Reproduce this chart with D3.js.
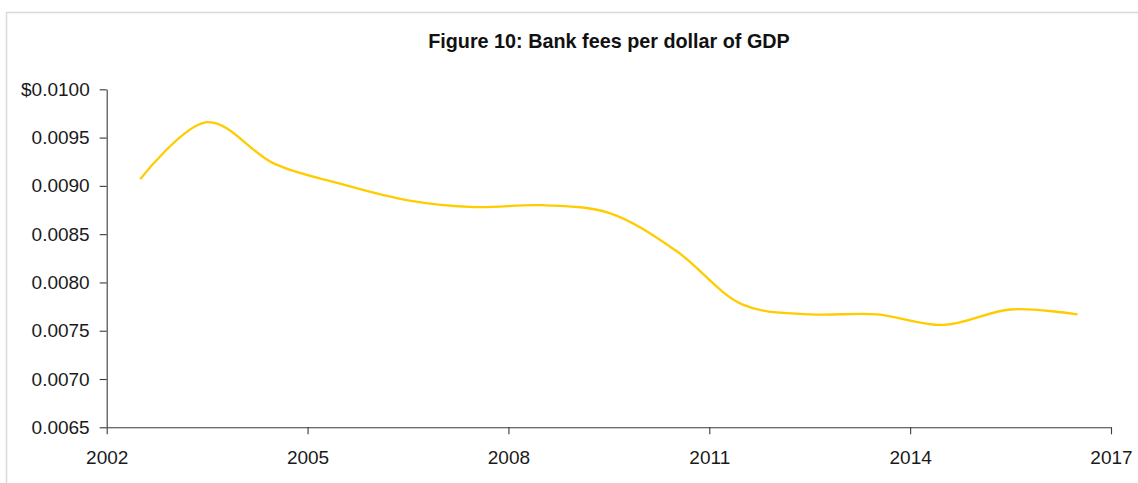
<!DOCTYPE html>
<html>
<head>
<meta charset="utf-8">
<script src="https://cdn.jsdelivr.net/npm/d3@7"></script>
<style>
  html, body { margin: 0; padding: 0; background: #fff; }
  svg { display: block; font-family: "Liberation Sans", Arial, sans-serif; }
</style>
</head>
<body>
<svg id="chart" width="1138" height="483"></svg>
<script>
// Bank fees per dollar of GDP, annual observations plotted at mid-year
const years = [2002.5, 2003.5, 2004.5, 2005.5, 2006.5, 2007.5, 2008.5, 2009.5,
               2010.5, 2011.5, 2012.5, 2013.5, 2014.5, 2015.5, 2016.5];
const feesPerDollar = [0.00907, 0.00966, 0.00923, 0.00902, 0.00885, 0.00878, 0.00880, 0.00872,
                       0.00833, 0.00777, 0.00767, 0.00767, 0.00756, 0.00772, 0.00767];

const xTicks = [2002, 2005, 2008, 2011, 2014, 2017];
const yTicks = [0.0065, 0.0070, 0.0075, 0.0080, 0.0085, 0.0090, 0.0095, 0.0100];
const yTickLabels = ["0.0065", "0.0070", "0.0075", "0.0080", "0.0085", "0.0090", "0.0095", "$0.0100"];
const title = "Figure 10: Bank fees per dollar of GDP";

const svg = d3.select("#chart");

// chart-area frame
svg.append("rect")
  .attr("x", 6.5).attr("y", 12.5)
  .attr("width", 1200).attr("height", 500)
  .attr("fill", "none")
  .attr("stroke", "#d9d9d9")
  .attr("stroke-width", 1.5);

const x = d3.scaleLinear().domain([2002, 2017]).range([106.7, 1111]);
const y = d3.scaleLinear().domain([0.0065, 0.0100]).range([427.3, 89.3]);

svg.append("text")
  .attr("x", 609).attr("y", 48)
  .attr("text-anchor", "middle")
  .attr("font-size", 19.8)
  .attr("font-weight", "bold")
  .attr("fill", "#111")
  .text(title);

const xAxis = d3.axisBottom(x)
  .tickValues(xTicks)
  .tickFormat(d3.format("d"))
  .tickSize(7)
  .tickSizeOuter(0)
  .tickPadding(16);

const yAxis = d3.axisLeft(y)
  .tickValues(yTicks)
  .tickFormat((d, i) => yTickLabels[i])
  .tickSize(7)
  .tickSizeOuter(0)
  .tickPadding(10);

const gx = svg.append("g").attr("transform", "translate(0,427.3)").call(xAxis);
const gy = svg.append("g").attr("transform", "translate(106.7,0)").call(yAxis);

[gx, gy].forEach(g => {
  g.select(".domain").attr("stroke", "#3a3a3a").attr("stroke-width", 1.1);
  g.selectAll(".tick line").attr("stroke", "#3a3a3a").attr("stroke-width", 1.1);
  g.selectAll(".tick text")
    .attr("font-size", 19)
    .attr("fill", "#1a1a1a")
    .attr("font-family", "'Liberation Sans', Arial, sans-serif");
});

const line = d3.line()
  .x((d, i) => x(years[i]))
  .y(d => y(d))
  .curve(d3.curveCatmullRom.alpha(0.5));

svg.append("path")
  .datum(feesPerDollar)
  .attr("d", line)
  .attr("fill", "none")
  .attr("stroke", "#FFCC00")
  .attr("stroke-width", 2.3)
  .attr("stroke-linejoin", "round");
</script>
</body>
</html>
